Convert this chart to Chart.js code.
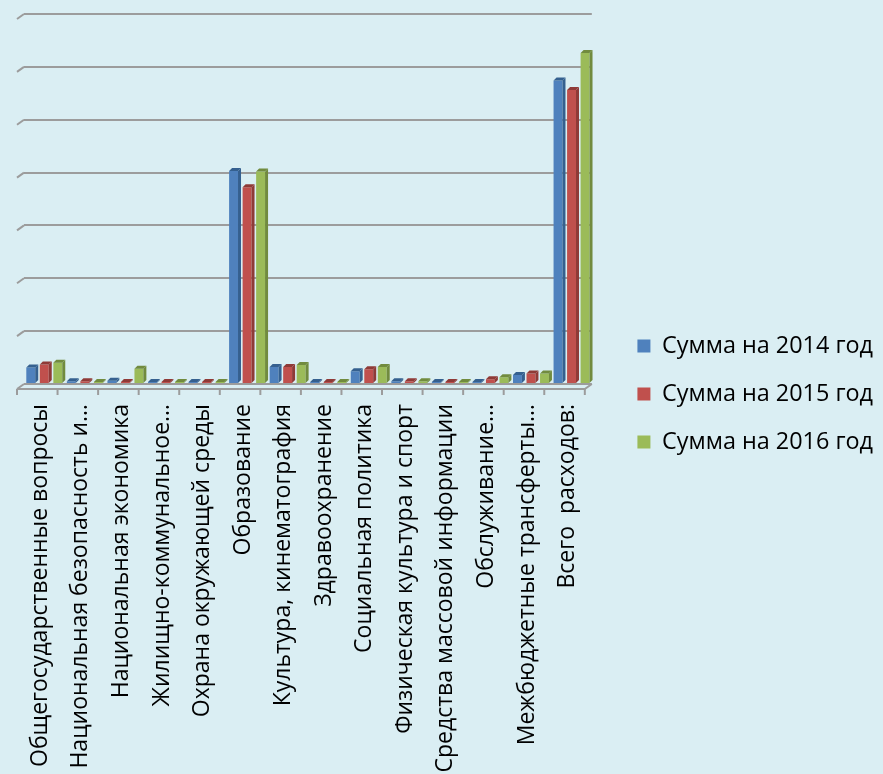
<!DOCTYPE html>
<html lang="ru">
<head>
<meta charset="utf-8" />
<title>Расходы бюджета</title>
<script src="https://cdn.jsdelivr.net/npm/chart.js"></script>
<style>
  html, body { margin: 0; padding: 0; background: #DAEEF3; }
  #wrap { width: 883px; height: 774px; }
</style>
</head>
<body>
<div id="wrap"><canvas id="chart" width="883" height="774"></canvas></div>
<script>
// данные (в делениях сетки)
const categories = [
  'Общегосударственные вопросы',
  'Национальная безопасность и…',
  'Национальная экономика',
  'Жилищно-коммунальное…',
  'Охрана окружающей среды',
  'Образование',
  'Культура, кинематография',
  'Здравоохранение',
  'Социальная политика',
  'Физическая культура и спорт',
  'Средства массовой информации',
  'Обслуживание…',
  'Межбюджетные трансферты…',
  'Всего  расходов:'
];
const sum2014 = [0.31, 0.05, 0.06, 0.03, 0.01, 4.03, 0.32, 0.01, 0.24, 0.05, 0.01, 0.03, 0.17, 5.74];
const sum2015 = [0.37, 0.05, 0.02, 0.01, 0.01, 3.72, 0.32, 0.01, 0.28, 0.05, 0.01, 0.09, 0.20, 5.56];
const sum2016 = [0.40, 0.04, 0.29, 0.02, 0.01, 4.02, 0.36, 0.01, 0.32, 0.05, 0.01, 0.13, 0.20, 6.26];
const seriesNames = ['Сумма на 2014 год', 'Сумма на 2015 год', 'Сумма на 2016 год'];

const colors = ['#4F81BD', '#C0504D', '#9BBB59'];
const darker = ['#35608f', '#8f3a37', '#718b3e'];
const D = 5; // глубина "объёма"

// псевдо-3D: пол, косые засечки сетки, боковые и верхние грани столбиков
const depthPlugin = {
  id: 'depth',
  beforeDatasetsDraw(chart) {
    const { ctx, chartArea: a, scales } = chart;
    ctx.save();
    ctx.strokeStyle = '#9c9c9c';
    ctx.lineWidth = 2;
    scales.y.ticks.forEach(t => {
      const y = scales.y.getPixelForValue(t.value);
      ctx.beginPath();
      ctx.moveTo(a.left, y);
      ctx.lineTo(a.left - D - 2, y + D);
      ctx.stroke();
    });
    // передняя кромка пола
    ctx.beginPath();
    ctx.moveTo(a.left - D - 2, a.bottom + D);
    ctx.lineTo(a.right - D - 2, a.bottom + D);
    ctx.lineTo(a.right, a.bottom);
    ctx.stroke();
    // засечки категорий
    const n = categories.length;
    const step = (a.right - a.left) / n;
    for (let i = 0; i <= n; i++) {
      const x = a.left + i * step - D - 2;
      ctx.beginPath();
      ctx.moveTo(x, a.bottom + D);
      ctx.lineTo(x, a.bottom + D + 6);
      ctx.stroke();
    }
    ctx.restore();
  },
  afterDatasetsDraw(chart) {
    const ctx = chart.ctx;
    ctx.save();
    chart.data.datasets.forEach((ds, di) => {
      const meta = chart.getDatasetMeta(di);
      meta.data.forEach(el => {
        const { x, y, base, width } = el.getProps(['x', 'y', 'base', 'width'], true);
        const l = x - width / 2, r = x + width / 2;
        ctx.fillStyle = darker[di];
        ctx.beginPath();
        ctx.moveTo(r, y);
        ctx.lineTo(r + D - 2, y - D + 2);
        ctx.lineTo(r + D - 2, base - D + 2);
        ctx.lineTo(r, base);
        ctx.closePath();
        ctx.fill();
        ctx.beginPath();
        ctx.moveTo(l, y);
        ctx.lineTo(l + D - 2, y - D + 2);
        ctx.lineTo(r + D - 2, y - D + 2);
        ctx.lineTo(r, y);
        ctx.closePath();
        ctx.fill();
      });
    });
    ctx.restore();
  }
};

new Chart(document.getElementById('chart'), {
  type: 'bar',
  data: {
    labels: categories,
    datasets: [
      { label: seriesNames[0], data: sum2014, backgroundColor: colors[0] },
      { label: seriesNames[1], data: sum2015, backgroundColor: colors[1] },
      { label: seriesNames[2], data: sum2016, backgroundColor: colors[2] }
    ]
  },
  options: {
    responsive: false,
    animation: false,
    layout: { padding: { top: 14, left: 0, right: 0, bottom: 0 } },
    datasets: { bar: { barPercentage: 0.66, categoryPercentage: 1.0, minBarLength: 2 } },
    scales: {
      x: {
        grid: { display: false },
        border: { display: false },
        ticks: {
          color: '#000',
          font: { family: 'Open Sans', size: 23 },
          minRotation: 90, maxRotation: 90,
          autoSkip: false,
          padding: 12,
          labelOffset: -4
        },
        afterFit(scale) { scale.height = 390; }
      },
      y: {
        min: 0, max: 7,
        ticks: { display: false, stepSize: 1 },
        grid: { color: '#9c9c9c', lineWidth: 2, drawTicks: false },
        border: { display: false },
        afterFit(scale) { scale.width = 24; }
      },
      gap: {
        type: 'linear',
        position: 'right',
        display: true,
        ticks: { display: false },
        grid: { display: false, drawTicks: false },
        border: { display: false },
        afterFit(scale) { scale.width = 21; }
      }
    },
    plugins: {
      tooltip: { enabled: false },
      legend: {
        position: 'right',
        maxWidth: 300,
        labels: {
          color: '#000',
          font: { family: 'Open Sans', size: 23.4 },
          boxWidth: 13, boxHeight: 13,
          padding: 24.6
        }
      }
    }
  },
  plugins: [depthPlugin]
});
</script>
</body>
</html>
